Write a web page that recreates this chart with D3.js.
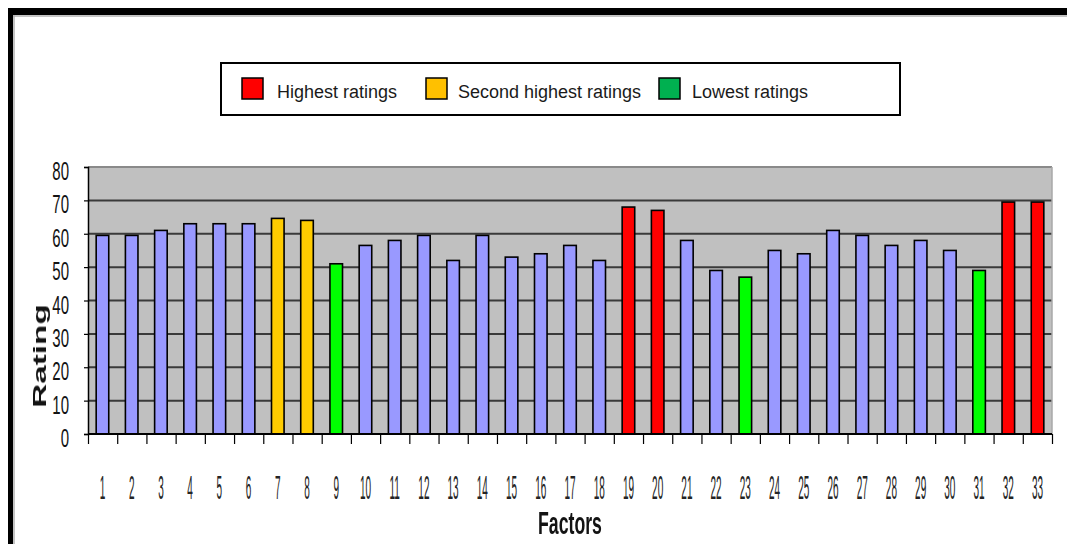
<!DOCTYPE html>
<html>
<head>
<meta charset="utf-8">
<script src="https://cdn.jsdelivr.net/npm/d3@7"></script>
<style>
  html, body { margin: 0; padding: 0; background: #fff; }
  svg { display: block; font-family: "Liberation Sans", Arial, sans-serif; }
</style>
</head>
<body>
<svg id="chart" width="1067" height="544"></svg>
<script>
// Factor numbers along the x axis
const factors = ["1","2","3","4","5","6","7","8","9","10","11","12","13","14","15","16","17",
                 "18","19","20","21","22","23","24","25","26","27","28","29","30","31","32","33"];
// Mean rating per factor
const ratings = [59.5, 59.5, 61, 63, 63, 63, 64.6, 64, 51, 56.5, 58, 59.5, 52, 59.5, 53, 54, 56.5,
                 52, 68, 67, 58, 49, 47, 55, 54, 61, 59.5, 56.5, 58, 55, 49, 69.5, 69.5];
// Rating group of each factor
const groups = ["other","other","other","other","other","other","second","second","lowest","other",
                "other","other","other","other","other","other","other","other","highest","highest",
                "other","other","lowest","other","other","other","other","other","other","other",
                "lowest","highest","highest"];
// Y axis ticks
const yTicks = [0, 10, 20, 30, 40, 50, 60, 70, 80];
// Legend entries
const legendLabels = ["Highest ratings", "Second highest ratings", "Lowest ratings"];
const legendKeys = ["highest", "second", "lowest"];

const barColor = { other: "#9999ff", second: "#ffcc00", lowest: "#00ff00", highest: "#ff0000" };
const swatchColor = { highest: "#ff0000", second: "#ffc000", lowest: "#00b050" };

const svg = d3.select("#chart");

// Outer frame
svg.append("rect").attr("x", 8).attr("y", 8).attr("width", 1059).attr("height", 7).attr("fill", "#000");
svg.append("rect").attr("x", 8).attr("y", 8).attr("width", 5).attr("height", 536).attr("fill", "#000");
svg.append("line").attr("x1", 13).attr("x2", 1067).attr("y1", 16).attr("y2", 16)
  .attr("stroke", "#b0b0b0").attr("stroke-width", 1.5);
svg.append("line").attr("x1", 14).attr("x2", 14).attr("y1", 15).attr("y2", 544)
  .attr("stroke", "#b0b0b0").attr("stroke-width", 1.5);

const plotLeft = 88, plotRight = 1052, plotTop = 167, plotBottom = 434;

const x = d3.scaleBand().domain(factors).range([plotLeft, plotRight]).paddingInner(0.57).paddingOuter(0.28);
const xb = d3.scaleLinear().domain([0, factors.length]).range([plotLeft, plotRight]);
const y = d3.scaleLinear().domain([0, 80]).range([plotBottom, plotTop]);

// Plot area
svg.append("rect").attr("x", plotLeft).attr("y", plotTop)
  .attr("width", plotRight - plotLeft).attr("height", plotBottom - plotTop)
  .attr("fill", "#c0c0c0");

// Gridlines
svg.append("g").selectAll("line").data(yTicks.filter(d => d > 0)).join("line")
  .attr("x1", plotLeft).attr("x2", plotRight)
  .attr("y1", d => y(d)).attr("y2", d => y(d))
  .attr("stroke", d => d === 80 ? "#8a8a8a" : "#3a3a3a")
  .attr("stroke-width", 2);
svg.append("line").attr("x1", plotRight).attr("x2", plotRight).attr("y1", plotTop).attr("y2", plotBottom)
  .attr("stroke", "#a8a8a8").attr("stroke-width", 1.5);

// Bars
svg.append("g").selectAll("rect").data(factors).join("rect")
  .attr("x", d => x(d))
  .attr("y", (d, i) => y(ratings[i]))
  .attr("width", x.bandwidth())
  .attr("height", (d, i) => y(0) - y(ratings[i]))
  .attr("fill", (d, i) => barColor[groups[i]])
  .attr("stroke", "#000")
  .attr("stroke-width", 1.6);

// Y axis
const yAxis = svg.append("g").attr("transform", `translate(${plotLeft},0)`)
  .call(d3.axisLeft(y).tickValues(yTicks).tickSize(4).tickFormat(""));
yAxis.select(".domain").attr("stroke", "#000").attr("stroke-width", 1.5);
yAxis.selectAll(".tick line").attr("stroke", "#000").attr("stroke-width", 1.2);
svg.append("g").attr("opacity", 0.99).selectAll("text").data(yTicks).join("text")
  .attr("transform", d => `translate(69,${y(d) + 13}) scale(1,1.68)`)
  .attr("text-anchor", "end")
  .attr("font-size", 15)
  .attr("fill", "#111")
  .text(d => d);

// X axis: ticks on category boundaries, labels centred under the bars
const xAxis = svg.append("g").attr("transform", `translate(0,${plotBottom})`)
  .call(d3.axisBottom(xb).tickValues(d3.range(factors.length + 1)).tickSize(10).tickFormat(""));
xAxis.select(".domain").attr("stroke", "#000").attr("stroke-width", 2)
  .attr("d", `M${plotLeft},0H${plotRight}`);
xAxis.selectAll(".tick line").attr("stroke", "#000").attr("stroke-width", 1.2);
svg.append("g").attr("opacity", 0.99).selectAll("text").data(factors).join("text")
  .attr("transform", d => `translate(${x(d) + x.bandwidth() / 2},499) scale(1,3.4)`)
  .attr("text-anchor", "middle")
  .attr("font-size", 10)
  .attr("fill", "#222")
  .text(d => d);

// Axis titles
const titles = svg.append("g").attr("opacity", 0.99);
titles.append("text")
  .attr("transform", "translate(46,356) rotate(-90) scale(1.75,1)")
  .attr("text-anchor", "middle")
  .attr("font-size", 19)
  .attr("font-weight", "bold")
  .attr("fill", "#111")
  .text("Rating");
titles.append("text")
  .attr("transform", "translate(570,534) scale(1,1.75)")
  .attr("text-anchor", "middle")
  .attr("font-size", 17.7)
  .attr("font-weight", "bold")
  .attr("fill", "#111")
  .text("Factors");

// Legend
const legend = svg.append("g");
legend.append("rect").attr("x", 221).attr("y", 63).attr("width", 679).attr("height", 52)
  .attr("fill", "#fff").attr("stroke", "#000").attr("stroke-width", 2);
const swatchX = [242, 426, 659];
const labelX = [277, 458, 692];
legendKeys.forEach((k, i) => {
  legend.append("rect").attr("x", swatchX[i]).attr("y", 78).attr("width", 21).attr("height", 21)
    .attr("fill", swatchColor[k]).attr("stroke", "#000").attr("stroke-width", 1.5);
  legend.append("text").attr("x", labelX[i]).attr("y", 98)
    .attr("font-size", 18).attr("fill", "#1a1a1a")
    .text(legendLabels[i]);
});
</script>
</body>
</html>
